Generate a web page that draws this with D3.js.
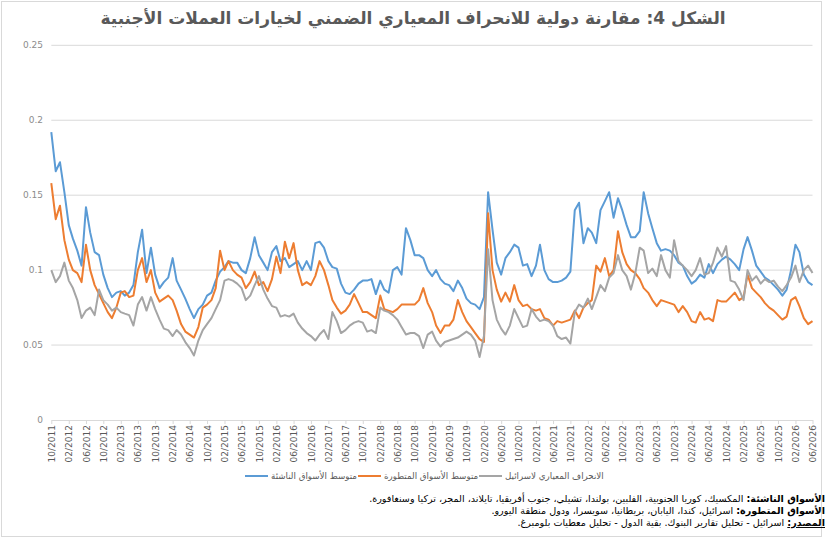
<!DOCTYPE html>
<html>
<head>
<meta charset="utf-8">
<script src="https://cdn.jsdelivr.net/npm/d3@7"></script>
<style>
  body { margin: 0; background: #fff; }
  svg { display: block; }
</style>
</head>
<body>
<div id="chart"></div>
<script>
// chart size
const width = 827;
const height = 539;
const margin = {left: 51.3, right: 14.5, top: 45.3, bottom: 119};

// data: one value per month, 10/2011 .. 06/2026
const months = d3.timeMonth.range(new Date(2011, 9, 1), new Date(2026, 6, 1));

const emerging = [
  0.192,0.166,0.172,0.152,0.130,0.121,0.113,0.103,0.142,0.125,
  0.112,0.110,0.097,0.088,0.082,0.085,0.086,0.083,0.085,0.090,
  0.112,0.127,0.098,0.115,0.097,0.088,0.092,0.095,0.108,0.093,
  0.087,0.081,0.074,0.068,0.074,0.077,0.083,0.085,0.093,0.099,
  0.102,0.106,0.105,0.105,0.100,0.098,0.108,0.122,0.110,0.105,
  0.100,0.112,0.116,0.106,0.108,0.102,0.104,0.106,0.100,0.106,
  0.100,0.118,0.119,0.115,0.106,0.102,0.101,0.091,0.085,0.084,
  0.087,0.091,0.093,0.093,0.094,0.084,0.093,0.087,0.085,0.100,
  0.102,0.097,0.128,0.120,0.110,0.110,0.108,0.100,0.096,0.100,
  0.094,0.091,0.090,0.086,0.093,0.088,0.081,0.078,0.077,0.074,
  0.082,0.152,0.127,0.105,0.097,0.108,0.112,0.117,0.115,0.103,
  0.104,0.096,0.103,0.117,0.100,0.094,0.092,0.092,0.093,0.095,
  0.099,0.140,0.145,0.118,0.128,0.125,0.118,0.140,0.146,0.152,
  0.135,0.148,0.140,0.130,0.122,0.122,0.126,0.152,0.138,0.128,
  0.118,0.113,0.114,0.113,0.110,0.105,0.103,0.096,0.091,0.093,
  0.097,0.095,0.104,0.098,0.104,0.107,0.109,0.107,0.104,0.100,
  0.114,0.122,0.113,0.103,0.099,0.095,0.093,0.090,0.087,0.083,
  0.087,0.100,0.117,0.112,0.097,0.092,0.090
];

const developed = [
  0.158,0.134,0.143,0.120,0.107,0.100,0.098,0.092,0.117,0.100,
  0.090,0.084,0.078,0.072,0.068,0.075,0.085,0.086,0.082,0.083,
  0.100,0.108,0.092,0.100,0.085,0.079,0.081,0.083,0.080,0.073,
  0.064,0.059,0.057,0.055,0.062,0.075,0.077,0.080,0.088,0.113,
  0.100,0.106,0.100,0.097,0.095,0.088,0.092,0.099,0.090,0.092,
  0.086,0.094,0.109,0.098,0.119,0.108,0.118,0.100,0.090,0.092,
  0.090,0.096,0.106,0.100,0.090,0.080,0.075,0.071,0.073,0.077,
  0.084,0.078,0.072,0.072,0.070,0.068,0.083,0.074,0.073,0.072,
  0.074,0.077,0.077,0.077,0.077,0.080,0.088,0.078,0.072,0.063,
  0.058,0.063,0.063,0.067,0.080,0.072,0.066,0.062,0.058,0.054,
  0.052,0.138,0.100,0.087,0.079,0.085,0.079,0.090,0.080,0.076,
  0.077,0.074,0.073,0.074,0.068,0.067,0.063,0.066,0.065,0.066,
  0.067,0.073,0.068,0.075,0.078,0.080,0.103,0.099,0.108,0.096,
  0.100,0.126,0.112,0.104,0.100,0.098,0.094,0.088,0.085,0.080,
  0.076,0.080,0.079,0.078,0.077,0.072,0.076,0.072,0.066,0.065,
  0.072,0.067,0.068,0.066,0.080,0.079,0.079,0.082,0.085,0.080,
  0.082,0.097,0.088,0.085,0.082,0.078,0.075,0.073,0.070,0.067,
  0.069,0.080,0.082,0.076,0.068,0.064,0.066
];

const israel = [
  0.100,0.092,0.096,0.105,0.093,0.088,0.080,0.068,0.073,0.075,
  0.070,0.087,0.080,0.077,0.073,0.075,0.072,0.071,0.070,0.063,
  0.077,0.082,0.073,0.082,0.074,0.067,0.061,0.060,0.056,0.060,
  0.057,0.052,0.048,0.043,0.053,0.060,0.064,0.068,0.074,0.080,
  0.093,0.094,0.093,0.091,0.088,0.080,0.083,0.090,0.096,0.087,
  0.081,0.076,0.075,0.069,0.070,0.069,0.071,0.065,0.061,0.058,
  0.056,0.053,0.057,0.060,0.054,0.072,0.066,0.058,0.060,0.063,
  0.065,0.066,0.065,0.059,0.060,0.058,0.075,0.073,0.072,0.070,
  0.067,0.062,0.057,0.058,0.058,0.056,0.048,0.057,0.059,0.053,
  0.049,0.052,0.053,0.054,0.055,0.057,0.059,0.057,0.053,0.042,
  0.056,0.114,0.080,0.067,0.061,0.057,0.063,0.074,0.068,0.062,
  0.063,0.074,0.069,0.066,0.067,0.066,0.063,0.056,0.054,0.055,
  0.051,0.072,0.077,0.075,0.081,0.074,0.082,0.090,0.086,0.095,
  0.098,0.110,0.100,0.096,0.087,0.098,0.115,0.113,0.098,0.101,
  0.096,0.110,0.100,0.095,0.120,0.106,0.103,0.100,0.096,0.100,
  0.108,0.097,0.098,0.105,0.115,0.109,0.116,0.093,0.092,0.087,
  0.080,0.100,0.093,0.096,0.091,0.094,0.092,0.093,0.089,0.086,
  0.090,0.095,0.103,0.092,0.100,0.103,0.098
];

const seriesNames = ["متوسط الأسواق الناشئة", "متوسط الأسواق المتطورة", "الانحراف المعياري لاسرائيل"];
const seriesColors = ["#5b9bd5", "#ed7d31", "#a5a5a5"];

const tickLabels = [
  "10/2011","02/2012","06/2012","10/2012","02/2013","06/2013","10/2013","02/2014","06/2014",
  "10/2014","02/2015","06/2015","10/2015","02/2016","06/2016","10/2016","02/2017","06/2017",
  "10/2017","02/2018","06/2018","10/2018","02/2019","06/2019","10/2019","02/2020","06/2020",
  "10/2020","02/2021","06/2021","10/2021","02/2022","06/2022","10/2022","02/2023","06/2023",
  "10/2023","02/2024","06/2024","10/2024","02/2025","06/2025","10/2025","02/2026","06/2026"
];
const yTicks = [0, 0.05, 0.1, 0.15, 0.2, 0.25];

const title = "الشكل 4: مقارنة دولية للانحراف المعياري الضمني لخيارات العملات الأجنبية";
const notes = [
  {head: "الأسواق الناشئة:", body: " المكسيك، كوريا الجنوبية، الفلبين، بولندا، تشيلي، جنوب أفريقيا، تايلاند، المجر، تركيا وسنغافورة."},
  {head: "الأسواق المتطورة:", body: " اسرائيل، كندا، اليابان، بريطانيا، سويسرا، ودول منطقة اليورو."},
  {head: "المصدر:", body: " اسرائيل - تحليل تقارير البنوك. بقية الدول - تحليل معطيات بلومبرغ."}
];

const parseTick = d3.timeParse("%m/%Y");
const font = "'DejaVu Sans', Arial, sans-serif";

const svg = d3.select("#chart")
  .append("svg")
  .attr("width", width)
  .attr("height", height);

// outer frame
svg.append("rect")
  .attr("x", 1.5).attr("y", 1.5)
  .attr("width", 820).attr("height", 535)
  .attr("fill", "#fff")
  .attr("stroke", "#d9d9d9");

const x = d3.scaleTime()
  .domain([parseTick("10/2011"), parseTick("06/2026")])
  .range([margin.left, width - margin.right]);

const y = d3.scaleLinear()
  .domain([0, 0.25])
  .range([height - margin.bottom, margin.top]);

// gridlines + y labels
svg.append("g")
  .selectAll("line")
  .data(yTicks.slice(1))
  .enter()
  .append("line")
    .attr("x1", x.range()[0])
    .attr("x2", x.range()[1])
    .attr("y1", d => y(d))
    .attr("y2", d => y(d))
    .attr("stroke", "#d9d9d9")
    .attr("stroke-width", 1);

svg.append("g")
  .selectAll("text")
  .data(yTicks)
  .enter()
  .append("text")
    .attr("x", 43)
    .attr("y", d => y(d))
    .attr("dy", "0.35em")
    .attr("text-anchor", "end")
    .attr("font-family", font)
    .attr("font-size", 9)
    .attr("fill", "#8c8c8c")
    .text(d => d);

// x axis
const xAxis = svg.append("g")
  .attr("transform", `translate(0, ${y(0)})`)
  .call(d3.axisBottom(x)
    .tickValues(tickLabels.map(parseTick))
    .tickFormat(d3.timeFormat("%m/%Y"))
    .tickSize(4)
    .tickSizeOuter(0));

xAxis.select(".domain").attr("stroke", "#d9d9d9");
xAxis.selectAll(".tick line").attr("stroke", "#d9d9d9");
xAxis.selectAll(".tick text")
  .attr("font-family", font)
  .attr("font-size", 9)
  .attr("fill", "#595959")
  .attr("transform", "rotate(-90)")
  .attr("text-anchor", "end")
  .attr("x", -5)
  .attr("y", 0)
  .attr("dy", "0.35em");

// lines
const line = d3.line()
  .x((d, i) => x(months[i]))
  .y(d => y(d));

[emerging, developed, israel].forEach((vals, k) => {
  svg.append("path")
    .datum(vals)
    .attr("fill", "none")
    .attr("stroke", seriesColors[k])
    .attr("stroke-width", 2)
    .attr("stroke-linejoin", "round")
    .attr("d", line);
});

// title
svg.append("text")
  .attr("x", 413)
  .attr("y", 24)
  .attr("text-anchor", "middle")
  .attr("font-family", font)
  .attr("font-size", 17)
  .attr("font-weight", "bold")
  .attr("fill", "#595959")
  .text(title);

// legend: line, then label to its right
const legendX = [245, 358, 479];
const legend = svg.append("g");
legendX.forEach((x0, k) => {
  legend.append("line")
    .attr("x1", x0).attr("x2", x0 + 23)
    .attr("y1", 476).attr("y2", 476)
    .attr("stroke", seriesColors[k])
    .attr("stroke-width", 2);
  legend.append("text")
    .attr("x", x0 + 26)
    .attr("y", 476)
    .attr("dy", "0.35em")
    .attr("text-anchor", "start")
    .attr("font-family", font)
    .attr("font-size", 8.7)
    .attr("fill", "#595959")
    .text(seriesNames[k]);
});

// footnotes
notes.forEach((n, i) => {
  const t = svg.append("text")
    .attr("x", 825)
    .attr("y", 502 + i * 12)
    .attr("direction", "rtl")
    .attr("text-anchor", "start")
    .attr("font-family", font)
    .attr("font-size", 9.6)
    .attr("fill", "#000");
  t.append("tspan")
    .attr("font-weight", "bold")
    .attr("text-decoration", i === 2 ? "underline" : null)
    .text(n.head);
  t.append("tspan").text(n.body);
});
</script>
</body>
</html>
